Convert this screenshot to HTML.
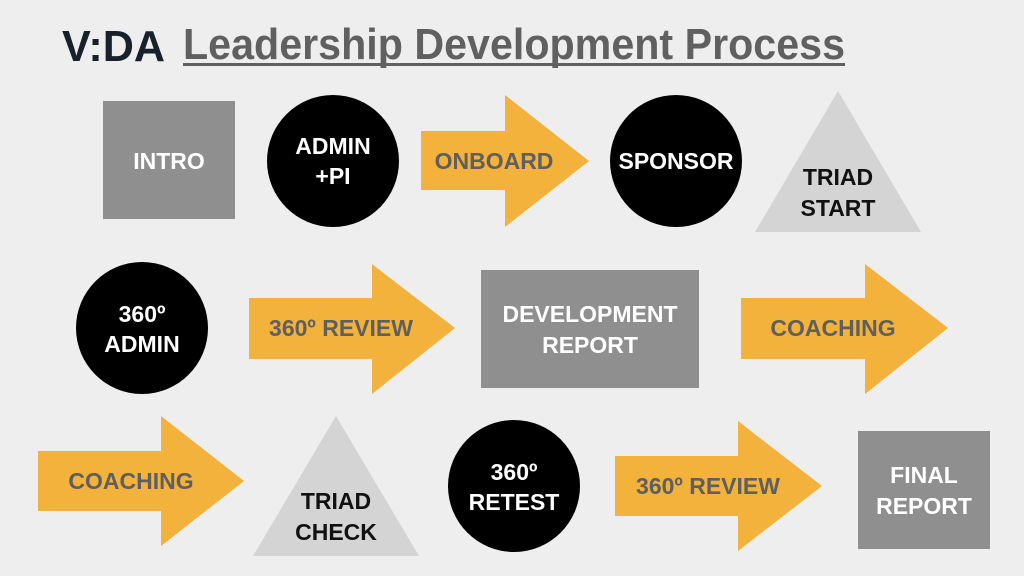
<!DOCTYPE html>
<html><head><meta charset="utf-8"><style>
html,body{margin:0;padding:0;background:#eeeeee;}
svg{display:block}
text{font-family:"Liberation Sans",sans-serif;font-weight:bold;text-anchor:middle;}
.w{fill:#fff;font-size:23px}
.g{fill:#5f5f5f;font-size:23px}
.k{fill:#111;font-size:23px}
</style></head><body>
<svg width="1024" height="576" viewBox="0 0 1024 576">
<rect width="1024" height="576" fill="#eeeeee"/>
<text x="62" y="61" style="text-anchor:start;font-size:44px;fill:#17202b" textLength="103" lengthAdjust="spacingAndGlyphs">V:DA</text>
<text x="183" y="59" style="text-anchor:start;font-size:44px;fill:#606060" textLength="662" lengthAdjust="spacingAndGlyphs">Leadership Development Process</text>
<rect x="183" y="63" width="662" height="3" fill="#606060"/>

<!-- row 1 -->
<rect x="103" y="101" width="132" height="118" fill="#8f8f8f"/>
<text class="w" x="169" y="169">INTRO</text>
<circle cx="333" cy="161" r="66" fill="#000"/>
<text class="w" x="333" y="154">ADMIN</text>
<text class="w" x="333" y="184">+PI</text>
<polygon points="421,131 505,131 505,95 589,161 505,227 505,190 421,190" fill="#f2b23c"/>
<text class="g" x="494" y="169">ONBOARD</text>
<circle cx="676" cy="161" r="66" fill="#000"/>
<text class="w" x="676" y="169">SPONSOR</text>
<polygon points="838,91 921,232 755,232" fill="#d4d4d4"/>
<text class="k" x="838" y="185">TRIAD</text>
<text class="k" x="838" y="216">START</text>

<!-- row 2 -->
<circle cx="142" cy="328" r="66" fill="#000"/>
<text class="w" x="142" y="322">360º</text>
<text class="w" x="142" y="352">ADMIN</text>
<polygon points="249,298 372,298 372,264 455,328 372,394 372,359 249,359" fill="#f2b23c"/>
<text class="g" x="341" y="336">360º REVIEW</text>
<rect x="481" y="270" width="218" height="118" fill="#8f8f8f"/>
<text class="w" x="590" y="322">DEVELOPMENT</text>
<text class="w" x="590" y="353">REPORT</text>
<polygon points="741,298 865,298 865,264 948,328 865,394 865,359 741,359" fill="#f2b23c"/>
<text class="g" x="833" y="336">COACHING</text>

<!-- row 3 -->
<polygon points="38,451 161,451 161,416 244,481 161,546 161,511 38,511" fill="#f2b23c"/>
<text class="g" x="131" y="489">COACHING</text>
<polygon points="336,416 419,556 253,556" fill="#d4d4d4"/>
<text class="k" x="336" y="509">TRIAD</text>
<text class="k" x="336" y="540">CHECK</text>
<circle cx="514" cy="486" r="66" fill="#000"/>
<text class="w" x="514" y="480">360º</text>
<text class="w" x="514" y="510">RETEST</text>
<polygon points="615,456 738,456 738,421 822,486 738,551 738,516 615,516" fill="#f2b23c"/>
<text class="g" x="708" y="494">360º REVIEW</text>
<rect x="858" y="431" width="132" height="118" fill="#8f8f8f"/>
<text class="w" x="924" y="483">FINAL</text>
<text class="w" x="924" y="514">REPORT</text>
</svg>
</body></html>
